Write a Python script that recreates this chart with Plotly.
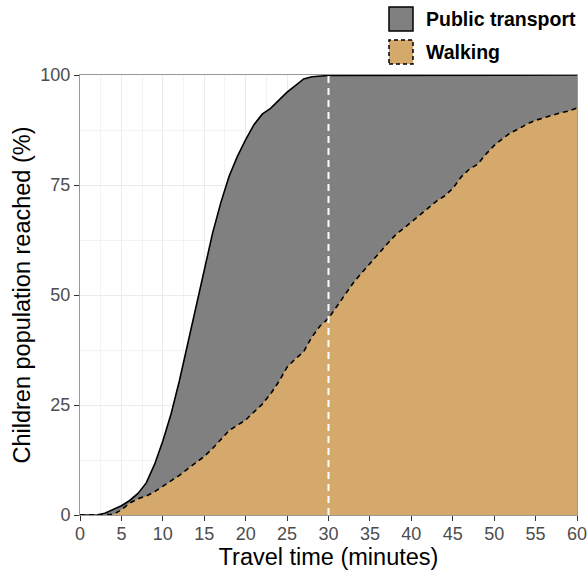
import plotly.graph_objects as go

# ---- data ----
minutes = list(range(0, 61))
public_transport = [0, 0, 0, 0.4, 1.2, 2.1, 3.3, 4.9, 7.3, 11.5,
                    16.8, 23.0, 30.5, 39.0, 47.5, 56.0, 64.0, 71.0, 77.0, 81.5,
                    85.3, 88.7, 91.1, 92.4, 94.3, 96.1, 97.6, 99.1, 99.6, 99.8,
                    99.9, 99.9, 99.9, 99.95, 99.95, 99.95, 99.95, 100, 100, 100,
                    100, 100, 100, 100, 100, 100, 100, 100, 100, 100,
                    100, 100, 100, 100, 100, 100, 100, 100, 100, 100, 100]
walking = [0, 0, 0, 0, 0.1, 1.2, 2.7, 3.7, 4.3, 5.3,
           6.5, 7.7, 9.0, 10.5, 11.8, 13.3, 15.1, 17.2, 19.2, 20.4,
           21.6, 23.4, 25.2, 27.5, 30.3, 33.6, 35.5, 37.1, 40.5, 43.0,
           44.7, 47.4, 50.2, 52.8, 55.0, 57.2, 59.4, 61.4, 63.5, 65.0,
           66.6, 68.2, 69.7, 71.3, 72.5, 74.2, 76.8, 78.6, 79.7, 82.0,
           84.0, 85.5, 86.9, 87.8, 88.9, 89.7, 90.3, 90.9, 91.4, 91.8, 92.5]
series_names = ["Public transport", "Walking"]
threshold_minutes = 30
x_ticks = list(range(0, 61, 5))
y_ticks = [0, 25, 50, 75, 100]

# ---- style ----
W, H = 587, 570
ML, MR, MT, MB = 80, 10, 75, 55
FONT = "Liberation Sans, Arial, Helvetica, sans-serif"
GREY = "#808080"
TAN = "#D4A96B"

pw = W - ML - MR
ph = H - MT - MB


def px_x(p):
    return (p - ML) / pw


def px_y(p):
    return (H - MB - p) / ph


fig = go.Figure()
fig.add_trace(go.Scatter(x=minutes, y=public_transport, mode="lines",
                         fill="tozeroy", fillcolor=GREY,
                         line=dict(color="black", width=1.6),
                         name=series_names[0], showlegend=False))
fig.add_trace(go.Scatter(x=minutes, y=walking, mode="lines",
                         fill="tozeroy", fillcolor=TAN,
                         line=dict(color="black", width=1.6, dash="5px,4px"),
                         name=series_names[1], showlegend=False))

# reference line at 30 minutes
fig.add_shape(type="line", xref="x", yref="y",
              x0=threshold_minutes, x1=threshold_minutes, y0=0, y1=100,
              line=dict(color="white", width=2, dash="7px,5px"), layer="above")

# custom legend
legend_items = [(series_names[0], GREY, "solid", 7, 31),
                (series_names[1], TAN, "4px,3px", 40, 64)]
for name, col, dash, top, bot in legend_items:
    fig.add_shape(type="rect", xref="paper", yref="paper",
                  x0=px_x(389), x1=px_x(413), y0=px_y(bot), y1=px_y(top),
                  fillcolor=col, line=dict(color="black", width=1.5, dash=dash),
                  layer="above")
    fig.add_annotation(xref="paper", yref="paper", x=px_x(424),
                       y=px_y((top + bot) / 2), text="<b>%s</b>" % name,
                       showarrow=False, xanchor="left", yanchor="middle",
                       font=dict(family=FONT, size=19.5, color="black"))

axis_common = dict(showline=True, mirror=True, linecolor="#999999", linewidth=1,
                   ticks="outside", ticklen=5, tickwidth=1, tickcolor="#333333",
                   tickfont=dict(family=FONT, size=18, color="#4D4D4D"),
                   showgrid=True, gridcolor="#EBEBEB", gridwidth=1,
                   zeroline=False, ticklabeloverflow="allow")

fig.update_xaxes(range=[0, 60], tickvals=x_ticks,
                 minor=dict(dtick=2.5, tick0=0, showgrid=True,
                            gridcolor="#F3F3F3", gridwidth=0.6, ticks=""),
                 title=dict(text="Travel time (minutes)",
                            font=dict(family=FONT, size=23.5, color="black"),
                            standoff=2),
                 ticklabelstandoff=-3,
                 **axis_common)
fig.update_yaxes(range=[0, 100], tickvals=y_ticks,
                 minor=dict(dtick=12.5, tick0=0, showgrid=True,
                            gridcolor="#F3F3F3", gridwidth=0.6, ticks=""),
                 title=dict(text="Children population reached (%)",
                            font=dict(family=FONT, size=23.5, color="black"),
                            standoff=3),
                 **axis_common)

fig.update_layout(width=W, height=H,
                  margin=dict(l=ML, r=MR, t=MT, b=MB, autoexpand=False),
                  plot_bgcolor="white", paper_bgcolor="white",
                  font=dict(family=FONT))

fig.write_html("out.html", config={"displayModeBar": False},
               post_script="document.body.style.margin='0px';"
                           "document.body.style.overflow='hidden';")
